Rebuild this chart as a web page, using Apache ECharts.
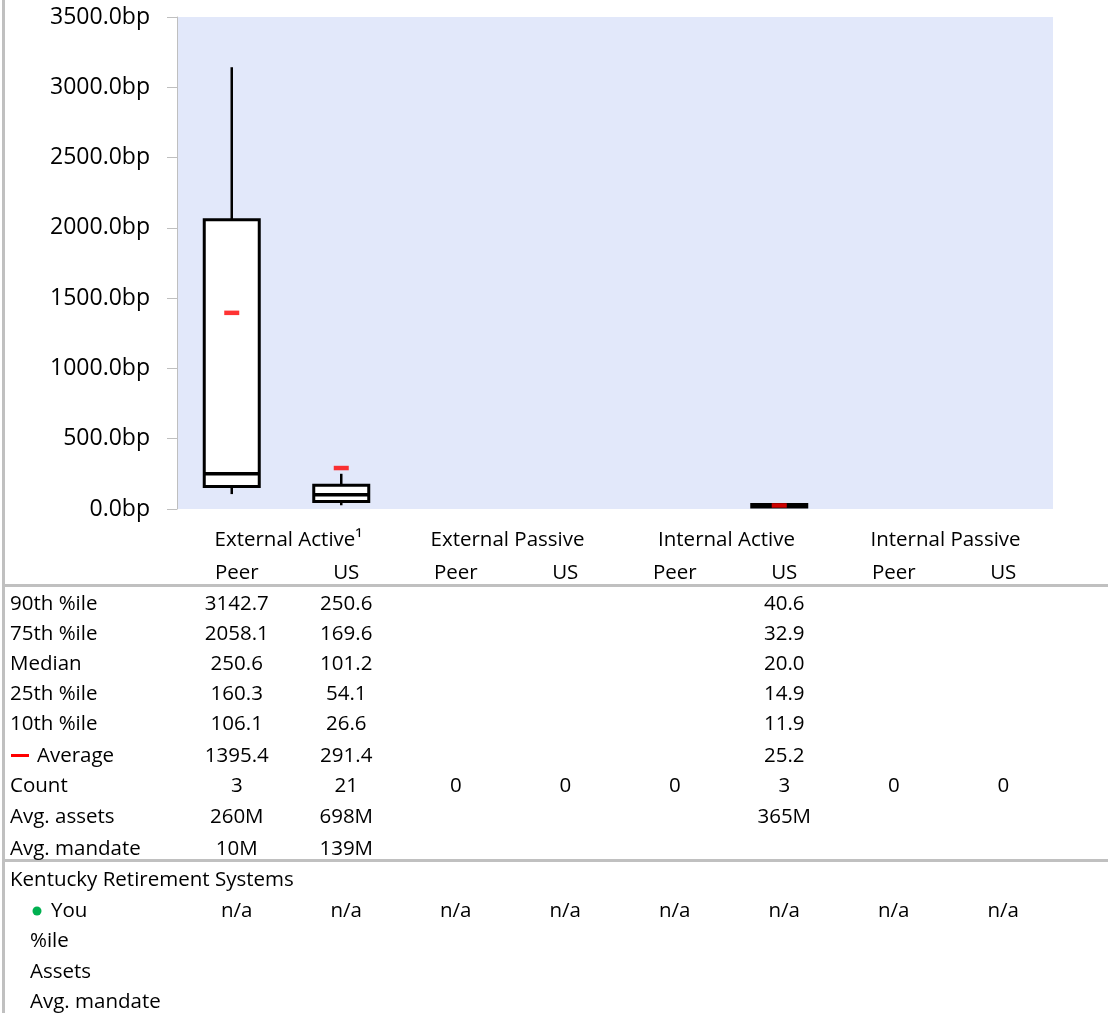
<!DOCTYPE html>
<html>
<head>
<meta charset="utf-8">
<script src="https://cdn.jsdelivr.net/npm/echarts@6/dist/echarts.min.js"></script>
<style>
html,body{margin:0;padding:0;background:#fff;}
#c{width:1108px;height:1013px;}
</style>
</head>
<body>
<div id="c"></div>
<script>
// ---- data ----
var categories = ['Peer','US','Peer','US','Peer','US','Peer','US'];
var groups = ['External Active\u00b9','External Passive','Internal Active','Internal Passive'];
var yTicks = [0,500,1000,1500,2000,2500,3000,3500];
var p90 = [3142.7, 250.6, null, null, null, 40.6, null, null];
var p75 = [2058.1, 169.6, null, null, null, 32.9, null, null];
var median = [250.6, 101.2, null, null, null, 20.0, null, null];
var p25 = [160.3, 54.1, null, null, null, 14.9, null, null];
var p10 = [106.1, 26.6, null, null, null, 11.9, null, null];
var average = [1395.4, 291.4, null, null, null, 25.2, null, null];
var count = [3, 21, 0, 0, 0, 3, 0, 0];
var avgAssets = ['260M','698M','','','','365M','',''];
var avgMandate = ['10M','139M','','','','','',''];
var you = ['n/a','n/a','n/a','n/a','n/a','n/a','n/a','n/a'];
var orgName = 'Kentucky Retirement Systems';

var FONT = '"Open Sans"';
var FS = 20.5;

var boxData = [];
var avgData = [];
for (var i = 0; i < categories.length; i++) {
  if (median[i] != null) boxData.push([i, p10[i], p25[i], median[i], p75[i], p90[i]]);
  if (average[i] != null) avgData.push([i, average[i]]);
}

function fmt(v){ return v == null ? '' : v.toFixed(1); }

var chart = echarts.init(document.getElementById('c'));
var option = {
  animation: false,
  textStyle: {fontFamily: FONT},
  grid: {left: 177, right: 55, top: 17, bottom: 504, show: true, backgroundColor: '#E2E8FA', borderWidth: 0},
  xAxis: [{
    type: 'category', data: categories, position: 'bottom',
    axisLine: {show: false}, axisTick: {show: false}, splitLine: {show: false},
    axisLabel: {interval: 0, margin: 54, color: '#000', fontSize: FS, fontFamily: FONT, padding: [0,0,0,10]}
  }, {
    type: 'category', data: groups, position: 'bottom',
    axisLine: {show: false}, axisTick: {show: false}, splitLine: {show: false},
    axisLabel: {interval: 0, margin: 21, color: '#000', fontSize: FS, fontFamily: FONT, padding: [0,0,0,4]}
  }],
  yAxis: {
    type: 'value', min: 0, max: 3500, interval: 500,
    axisLine: {show: true, lineStyle: {color: '#BFBFBF', width: 1}},
    axisTick: {show: true, length: 10, lineStyle: {color: '#BFBFBF'}},
    splitLine: {show: false},
    axisLabel: {margin: 27, color: '#000', fontSize: 23, fontFamily: FONT, formatter: function(v){return v.toFixed(1)+'bp';}}
  },
  series: [{
    type: 'custom',
    xAxisIndex: 0,
    data: boxData,
    encode: {x: 0, y: [1,2,3,4,5]},
    renderItem: function(params, api){
      var idx = api.value(0);
      var cx = api.coord([idx, 0])[0];
      var y10 = api.coord([idx, api.value(1)])[1];
      var y25 = api.coord([idx, api.value(2)])[1];
      var ymed = api.coord([idx, api.value(3)])[1];
      var y75 = api.coord([idx, api.value(4)])[1];
      var y90 = api.coord([idx, api.value(5)])[1];
      var w = 55;
      var st = {stroke: '#000', lineWidth: 2.5, fill: null};
      return {
        type: 'group',
        children: [
          {type: 'line', shape: {x1: cx, y1: y90, x2: cx, y2: y75}, style: st},
          {type: 'line', shape: {x1: cx, y1: y25, x2: cx, y2: y10}, style: st},
          {type: 'rect', shape: {x: cx - w/2, y: y75, width: w, height: y25 - y75}, style: {fill: '#fff', stroke: '#000', lineWidth: 3}},
          {type: 'line', shape: {x1: cx - w/2, y1: ymed, x2: cx + w/2, y2: ymed}, style: {stroke: '#000', lineWidth: 3.5}}
        ]
      };
    }
  }, {
    type: 'scatter',
    xAxisIndex: 0,
    data: avgData,
    symbol: 'rect',
    symbolSize: [15, 4.5],
    itemStyle: {color: '#FF0000'},
    z: 5
  }]
};
chart.setOption(option);

// ---- table below the chart ----
var colX = [];
for (var j = 0; j < categories.length; j++) colX.push(chart.convertToPixel({xAxisIndex: 0}, j) + 5);

var rows = [
  {label: '90th %ile', vals: p90.map(fmt), y: 604},
  {label: '75th %ile', vals: p75.map(fmt), y: 634},
  {label: 'Median', vals: median.map(fmt), y: 664},
  {label: '25th %ile', vals: p25.map(fmt), y: 694},
  {label: '10th %ile', vals: p10.map(fmt), y: 724},
  {label: 'Average', vals: average.map(fmt), y: 756, labelX: 37},
  {label: 'Count', vals: count.map(String), y: 786},
  {label: 'Avg. assets', vals: avgAssets, y: 817},
  {label: 'Avg. mandate', vals: avgMandate, y: 849},
  {label: orgName, vals: [], y: 880},
  {label: 'You', vals: you, y: 911, labelX: 51},
  {label: '%ile', vals: [], y: 941, labelX: 30},
  {label: 'Assets', vals: [], y: 972, labelX: 30},
  {label: 'Avg. mandate', vals: [], y: 1002, labelX: 30}
];

var g = [];
g.push({type: 'rect', shape: {x: 2, y: 0, width: 3, height: 1013}, style: {fill: '#C0C0C0'}, silent: true});
g.push({type: 'rect', shape: {x: 2, y: 584, width: 1106, height: 3}, style: {fill: '#C0C0C0'}, silent: true});
g.push({type: 'rect', shape: {x: 2, y: 859, width: 1106, height: 3}, style: {fill: '#C0C0C0'}, silent: true});
g.push({type: 'rect', shape: {x: 11, y: 754, width: 18, height: 3}, style: {fill: '#FF0000'}, silent: true});
g.push({type: 'circle', shape: {cx: 37, cy: 911, r: 4.5}, style: {fill: '#00B050'}, silent: true});

rows.forEach(function(r){
  g.push({type: 'text', x: r.labelX || 10, y: r.y, style: {text: r.label, fill: '#000', font: FS + 'px ' + FONT, textVerticalAlign: 'middle', textAlign: 'left'}, silent: true});
  r.vals.forEach(function(v, k){
    if (v === '' || v == null) return;
    g.push({type: 'text', x: colX[k], y: r.y, style: {text: v, fill: '#000', font: FS + 'px ' + FONT, textVerticalAlign: 'middle', textAlign: 'center'}, silent: true});
  });
});
chart.setOption({graphic: g});
</script>
</body>
</html>
